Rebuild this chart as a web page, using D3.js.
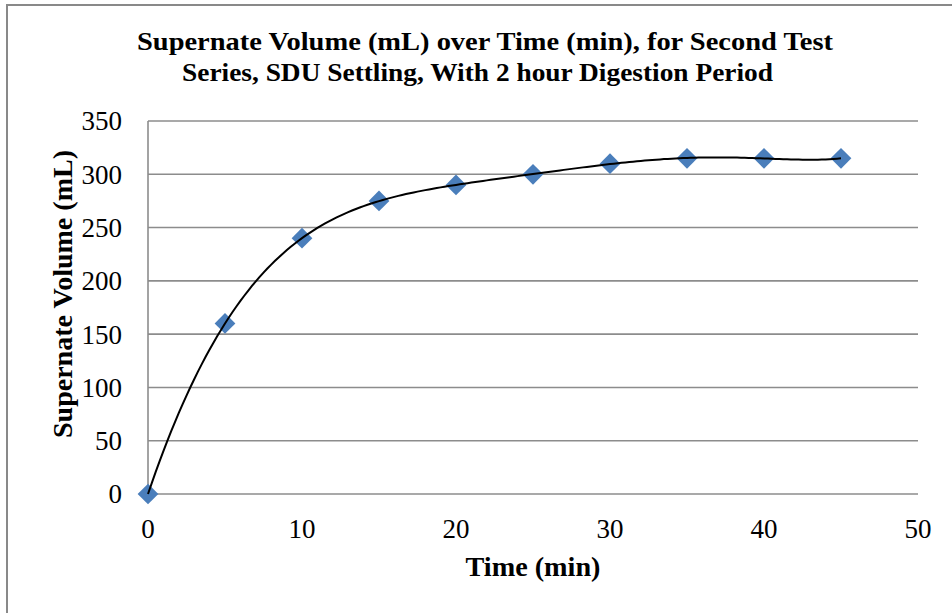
<!DOCTYPE html>
<html>
<head>
<meta charset="utf-8">
<script src="https://cdn.jsdelivr.net/npm/d3@7/dist/d3.min.js"></script>
<style>
  html, body { margin: 0; padding: 0; background: #fff; }
  svg { display: block; }
</style>
</head>
<body>
<div id="chart"></div>
<script>
// ---- data ----
const timeMin = [0, 5, 10, 15, 20, 25, 30, 35, 40, 45];
const volumeML = [0, 160, 240, 275, 290, 300, 310, 315, 315, 315];
const xTicks = [0, 10, 20, 30, 40, 50];
const yTicks = [0, 50, 100, 150, 200, 250, 300, 350];
const titleLines = [
  "Supernate Volume (mL) over Time (min), for Second Test",
  "Series, SDU Settling, With 2 hour Digestion Period"
];
const xLabel = "Time (min)";
const yLabel = "Supernate Volume (mL)";

const W = 952, H = 613;
const svg = d3.select("#chart").append("svg").attr("width", W).attr("height", H);

// outer chart border (only left and top visible in frame)
svg.append("rect").attr("x", 7).attr("y", 5).attr("width", W + 20).attr("height", H + 20)
  .attr("fill", "#fff").attr("stroke", "#898989").attr("stroke-width", 2);

const x = d3.scaleLinear().domain([0, 50]).range([148, 918]);
const y = d3.scaleLinear().domain([0, 350]).range([494, 121]);

const serif = "'Liberation Serif', 'Times New Roman', serif";

// gridlines
svg.append("g").selectAll("line").data(yTicks).enter().append("line")
  .attr("x1", x(0)).attr("x2", x(50))
  .attr("y1", d => y(d)).attr("y2", d => y(d))
  .attr("stroke", "#8c8c8c").attr("stroke-width", 1.6);

// y axis line
svg.append("line").attr("x1", x(0)).attr("x2", x(0)).attr("y1", y(0)).attr("y2", y(350))
  .attr("stroke", "#8c8c8c").attr("stroke-width", 1.6);

// y tick labels
svg.append("g").selectAll("text").data(yTicks).enter().append("text")
  .attr("x", 122).attr("y", d => y(d)).attr("dy", "0.35em")
  .attr("text-anchor", "end")
  .style("font-family", serif).style("font-size", "27px").attr("fill", "#000")
  .text(d => d);

// x tick labels
svg.append("g").selectAll("text").data(xTicks).enter().append("text")
  .attr("x", d => x(d)).attr("y", 538)
  .attr("text-anchor", "middle")
  .style("font-family", serif).style("font-size", "27px").attr("fill", "#000")
  .text(d => d);

// polynomial trendline (least squares, order 6) computed from data
function polyfit(xs, ys, deg) {
  const s = 45;
  const n = deg + 1;
  const A = Array.from({length: n}, () => new Array(n + 1).fill(0));
  xs.forEach((xv, k) => {
    const t = xv / s;
    const pw = [];
    for (let i = 0; i < 2 * n; i++) pw.push(Math.pow(t, i));
    for (let i = 0; i < n; i++) {
      for (let j = 0; j < n; j++) A[i][j] += pw[i + j];
      A[i][n] += pw[i] * ys[k];
    }
  });
  for (let i = 0; i < n; i++) {
    let p = i;
    for (let r = i + 1; r < n; r++) if (Math.abs(A[r][i]) > Math.abs(A[p][i])) p = r;
    [A[i], A[p]] = [A[p], A[i]];
    for (let r = 0; r < n; r++) {
      if (r === i) continue;
      const f = A[r][i] / A[i][i];
      for (let c = i; c <= n; c++) A[r][c] -= f * A[i][c];
    }
  }
  const coef = A.map((row, i) => row[n] / row[i]);
  return xv => { const t = xv / s; let v = 0; for (let i = n - 1; i >= 0; i--) v = v * t + coef[i]; return v; };
}
const f = polyfit(timeMin, volumeML, 6);
const trend = d3.range(0, 45.001, 0.25).map(t => [t, f(t)]);

// markers (diamonds)
const diamond = d3.symbol().type(d3.symbolSquare).size(215);
svg.append("g").selectAll("path").data(timeMin).enter().append("path")
  .attr("d", diamond())
  .attr("transform", (d, i) => `translate(${x(d)},${y(volumeML[i])}) rotate(45)`)
  .attr("fill", "#4a7ebb");

// trendline on top of markers
svg.append("path").datum(trend)
  .attr("d", d3.line().x(d => x(d[0])).y(d => y(d[1])))
  .attr("fill", "none").attr("stroke", "#000").attr("stroke-width", 2);

// title
const titleSpans = [[137, 833, 50], [182, 773, 81]];
titleLines.forEach((t, i) => {
  const [a, b, by] = titleSpans[i];
  svg.append("text").attr("x", (a + b) / 2).attr("y", by)
    .attr("text-anchor", "middle")
    .attr("textLength", b - a).attr("lengthAdjust", "spacingAndGlyphs")
    .style("font-family", serif).style("font-weight", "bold").style("font-size", "26px")
    .text(t);
});

// x axis label
svg.append("text").attr("x", 533).attr("y", 576).attr("text-anchor", "middle")
  .attr("textLength", 135).attr("lengthAdjust", "spacingAndGlyphs")
  .style("font-family", serif).style("font-weight", "bold").style("font-size", "27px")
  .text(xLabel);

// y axis label
svg.append("text").attr("transform", "translate(72,294) rotate(-90)")
  .attr("text-anchor", "middle")
  .attr("textLength", 288).attr("lengthAdjust", "spacingAndGlyphs")
  .style("font-family", serif).style("font-weight", "bold").style("font-size", "27px")
  .text(yLabel);
</script>
</body>
</html>
